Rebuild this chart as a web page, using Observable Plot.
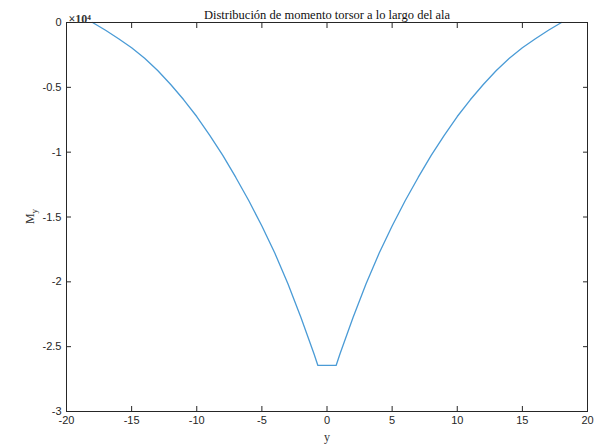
<!DOCTYPE html>
<html>
<head>
<meta charset="utf-8">
<script src="https://cdn.jsdelivr.net/npm/d3@7"></script>
<script src="https://cdn.jsdelivr.net/npm/@observablehq/plot@0.6"></script>
<style>
  html, body { margin: 0; padding: 0; background: #fff; }
  #chart svg { display: block; }
</style>
</head>
<body>
<div id="chart"></div>
<script>
const titleText = "Distribución de momento torsor a lo largo del ala";
const xLabel = "y";
const xTicks = [-20, -15, -10, -5, 0, 5, 10, 15, 20];
const yTicks = [0, -5000, -10000, -15000, -20000, -25000, -30000];
const spanY = [-18, -17, -16, -15, -14, -13, -12, -11, -10, -9, -8, -7, -6, -5, -4, -3, -2, -1, -0.7,
               0.7, 1, 2, 3, 4, 5, 6, 7, 8, 9, 10, 11, 12, 13, 14, 15, 16, 17, 18];
const momentMy = [0, -600, -1250, -1950, -2750, -3700, -4780, -5960, -7250, -8700, -10250, -11950, -13750, -15700, -17800, -20150, -22750, -25550, -26450,
                  -26450, -25550, -22750, -20150, -17800, -15700, -13750, -11950, -10250, -8700, -7250, -5960, -4780, -3700, -2750, -1950, -1250, -600, 0];

const data = spanY.map((y, i) => ({y, m: momentMy[i]}));
const fmtX = d => String(d);
const fmtY = d => d === 0 ? "0" : String(d / 1e4);
const axisColor = "#262626";
const tickFont = "Liberation Sans, sans-serif";

const plot = Plot.plot({
  width: 600,
  height: 447,
  marginLeft: 66,
  marginRight: 13,
  marginTop: 22,
  marginBottom: 36,
  style: {fontFamily: tickFont, fontSize: "11px", color: axisColor, background: "#fff"},
  x: {domain: [-20, 20]},
  y: {domain: [-30000, 0]},
  marks: [
    Plot.axisX({anchor: "bottom", ticks: xTicks, tickSize: -5, tickPadding: 10, tickFormat: fmtX, label: null, fontSize: 11}),
    Plot.axisX({anchor: "top", ticks: xTicks, tickSize: -5, tickFormat: () => "", label: null}),
    Plot.axisY({anchor: "left", ticks: yTicks, tickSize: -5, tickPadding: 10, tickFormat: fmtY, label: null, fontSize: 11}),
    Plot.axisY({anchor: "right", ticks: yTicks, tickSize: -5, tickFormat: () => "", label: null}),
    Plot.line(data, {x: "y", y: "m", stroke: "#4a9bd6", strokeWidth: 1.3}),
    Plot.frame({stroke: axisColor, strokeWidth: 1}),
    Plot.text([titleText], {frameAnchor: "top", dy: -12, fontSize: 12.5, fontFamily: "Liberation Serif, serif", fill: "#111"}),
    Plot.text(["×10⁴"], {frameAnchor: "top-left", dx: 2, dy: -8, textAnchor: "start", fontSize: 12, fontWeight: "bold", fontFamily: "Liberation Serif, serif", fill: "#333"}),
    Plot.text([xLabel], {frameAnchor: "bottom", dy: 29, fontSize: 12, fontFamily: "Liberation Serif, serif", fill: "#333"})
  ]
});

document.getElementById("chart").appendChild(plot);

// y-axis label M_y with subscript
const svg = d3.select(plot);
const yl = svg.append("text")
  .attr("transform", `translate(34, ${22 + (447 - 22 - 36) / 2}) rotate(-90)`)
  .attr("text-anchor", "middle")
  .attr("font-family", "Liberation Serif, serif")
  .attr("font-size", 12)
  .attr("fill", "#333");
yl.append("tspan").text("M");
yl.append("tspan").attr("font-size", 9).attr("dy", 3).text("y");
</script>
</body>
</html>
